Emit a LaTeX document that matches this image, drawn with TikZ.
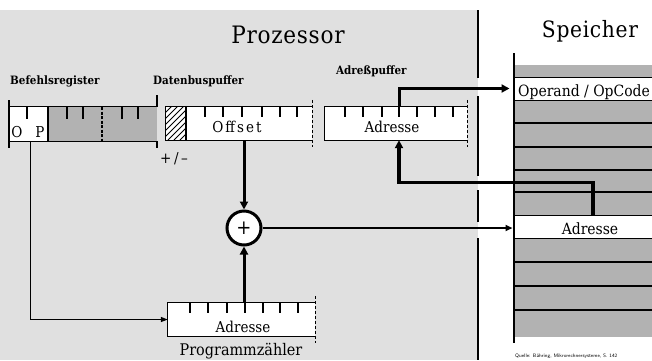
\documentclass[tikz,border=0pt]{standalone}
\usepackage{fontspec}
\setmainfont{DejaVu Serif Condensed}
\newfontfamily\spacedfont{DejaVu Serif Condensed}[LetterSpace=3]
\newfontfamily\widefont{DejaVu Serif Condensed}[LetterSpace=14]
\usetikzlibrary{arrows.meta,calc}
\begin{document}
\begin{tikzpicture}[x=1pt,y=-1pt,
  reg/.style={rectangle,inner sep=0pt,fill=white,minimum height=33pt},
  row/.style={rectangle,inner sep=0pt,fill=white,draw,line width=1pt,minimum width=138pt,minimum height=23pt},
  thinline/.style={line width=1.2pt},
  txt/.style={font=\fontsize{15}{18}\selectfont,inner sep=0pt},
  lab/.style={font=\bfseries\fontsize{11.5}{14}\selectfont,inner sep=0pt},
  conn/.style={line width=3pt,-{Triangle[length=8pt,width=8pt]}},
  medconn/.style={line width=2pt,-{Triangle[length=7pt,width=6pt]}},
  thinconn/.style={line width=1.3pt,-{Triangle[length=7pt,width=5pt]}}]
\useasboundingbox (0,0) rectangle (652,360);
% processor background
\fill[black!12] (0,10) rectangle (478,360);
% memory background
\fill[black!30] (514,65) rectangle (652,337);
\draw[line width=1.2pt] (514,123) -- (652,123);
\draw[line width=2pt] (514,147) -- (652,147);
\draw[line width=2pt] (514,170) -- (652,170);
\draw[line width=1.2pt] (514,192) -- (652,192);
\draw[line width=2pt] (514,262) -- (652,262);
\draw[line width=1.6pt] (514,286) -- (652,286);
\draw[line width=2pt] (514,310) -- (652,310);
\node[row] (opr) at (583,88.5) {};
\node[row] (madr) at (583,226.5) {};
\node[txt,font=\fontsize{15.5}{18}\selectfont,anchor=base west] (toprnd) at (518,96) {Operand / OpCode};
\node[txt,font=\fontsize{15.5}{18}\selectfont,anchor=base] (tmadr) at (590,234) {Adresse};
\draw[line width=1.5pt] (514,53) -- (514,343);
% processor boundary
\draw[line width=1.2pt] (478,10) -- (478,78) (478,96) -- (478,176) (478,190) -- (478,222) (478,238) -- (478,360);
% titles
\node[anchor=base,font=\spacedfont\fontsize{24}{28}\selectfont,inner sep=0pt] (proz) at (288,43) {Prozessor};
\node[anchor=base,font=\spacedfont\fontsize{22.5}{27}\selectfont,inner sep=0pt] (spei) at (590,37) {Speicher};
% labels
\node[lab,anchor=base west] (lbr) at (10,84) {Befehlsregister};
\node[lab,anchor=base west] (ldbp) at (153,84) {Datenbuspuffer};
\node[lab,anchor=base west] (lapf) at (336,74) {Adreßpuffer};
% registers
\node[reg,minimum width=148pt,minimum height=34pt] (br) at (83,124) {};
\node[reg,minimum width=146pt] (dbp) at (239,123.5) {};
\node[reg,minimum width=142pt] (apf) at (396,123.5) {};
\node[reg,minimum width=147pt] (pcz) at (241.5,319.5) {};
% Befehlsregister details
\fill[black!30] (48,107) rectangle (157,141);
\draw[thinline] (48,107) -- (48,141);
\draw[thinline,dash pattern=on 3pt off 1.5pt] (102,107) -- (102,141);
\foreach \x in {27,67,83,122,138} \draw[thinline] (\x,107) -- ++(0,12);
\draw[thinline] (9,100) -- (9,148) (157,95) -- (157,107) (157,141) -- (157,148);
% hatch in Datenbuspuffer
\begin{scope}
\clip (166,107) rectangle (186,140);
\foreach \i in {0,6,...,72} \draw[line width=1pt] (120+\i,140) -- ++(40,-40);
\end{scope}
\draw[thinline] (186,107) -- (186,140);
% ticks
\foreach \x in {205,223,242,262,280,297} \draw[thinline] (\x,107) -- ++(0,10);
\foreach \x in {345,363,382,399,417,435,453} \draw[thinline] (\x,107) -- ++(0,10);
\foreach \x in {190,208,227,245,263,280,298} \draw[thinline] (\x,303) -- ++(0,10);
% borders
\foreach \n in {br,dbp,apf,pcz}
  \draw[thinline] (\n.north east) -- (\n.north west) -- (\n.south west) -- (\n.south east);
\foreach \n in {dbp,apf,pcz}
  \draw[thinline,dash pattern=on 3pt off 2pt] ($(\n.north east)+(0,-7)$) -- ($(\n.south east)+(0,7)$);
% register texts
\node[txt,anchor=base] (tO) at (17,137) {O};
\node[txt,anchor=base] (tP) at (40,137) {P};
\node[txt,anchor=base] (toff) at (237,132) {\widefont Offset};
\node[txt,anchor=base] (tapf) at (392,132) {Adresse};
\node[txt,anchor=base] (tpcz) at (243,332) {Adresse};
\node[anchor=base,font=\fontsize{16}{19}\selectfont,inner sep=0pt] (lpcz) at (241,355) {Programmzähler};
\node[txt,anchor=base west] (pm) at (160,163) {+\,/\,–};
% adder
\node[circle,draw,line width=3pt,fill=white,minimum size=34pt,inner sep=0pt,font=\fontsize{20}{20}\selectfont] (plus) at (244,228) {+};
% connectors
\draw[conn] (dbp.south -| plus.north) -- (plus.north);
\draw[conn] (pcz.north -| plus.south) -- (plus.south);
\draw[medconn] (plus.east) -- ([xshift=-1pt]plus.east -| madr.west);
\draw[thinconn] ([xshift=22pt]br.south west) |- (pcz.west);
\draw[conn] ([xshift=3pt]apf.north) |- ([xshift=-4pt]opr.west);
\draw[conn,line width=3.5pt] ([xshift=10pt]madr.north) -- ++(0,-32) -| ([xshift=3pt]apf.south);
% source
\node[anchor=base west,font=\sffamily\fontsize{5}{6}\selectfont,inner sep=0pt] (src) at (515,357) {Quelle: Bähring, Mikrorechnersysteme, S. 142};
\end{tikzpicture}
\end{document}
